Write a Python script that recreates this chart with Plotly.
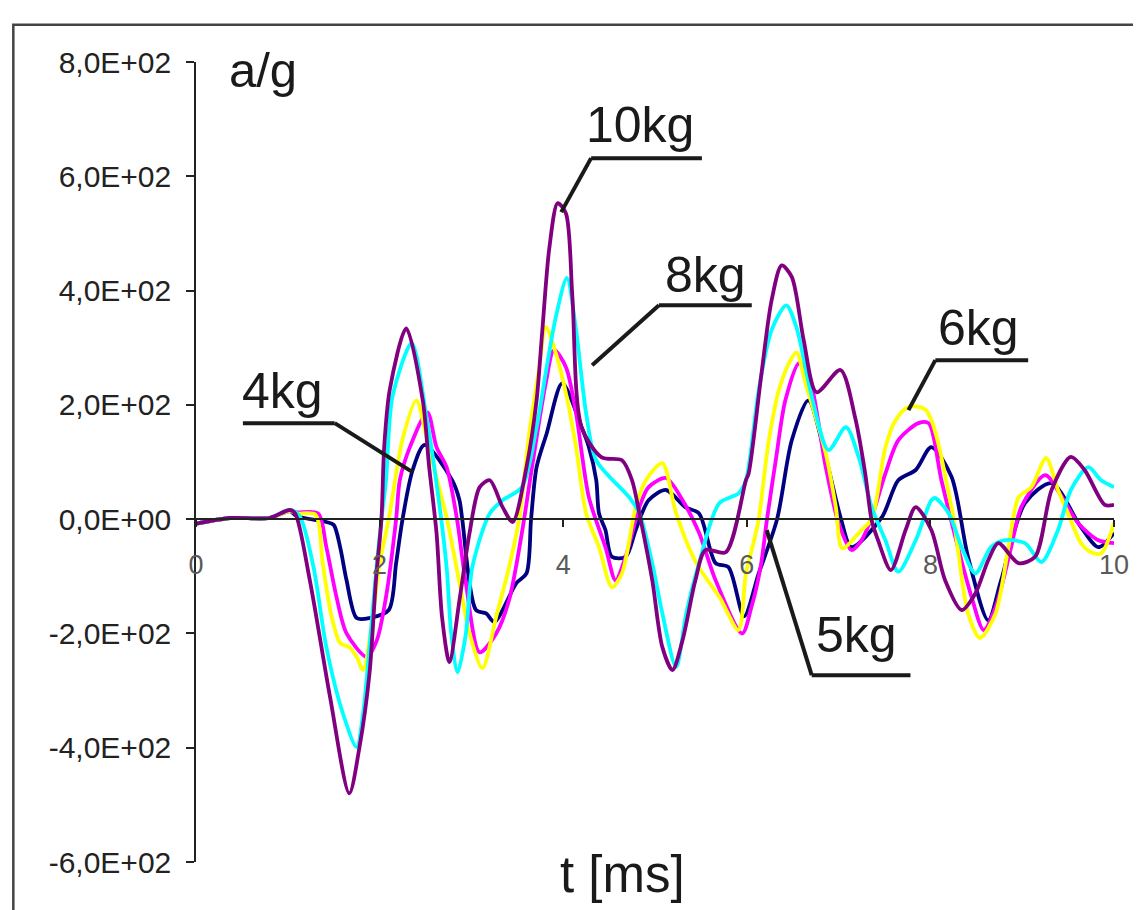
import plotly.graph_objects as go

# ---------------- data ----------------
t_10kg = [0, 0.37, 0.8, 1.02, 1.08, 1.24, 1.46, 1.67, 1.78, 1.89, 1.96, 2.02, 2.05, 2.11, 2.29,
          2.47, 2.54, 2.62, 2.68, 2.76, 2.87, 2.98, 3.09, 3.2, 3.34, 3.45, 3.6, 3.71, 3.77, 3.85,
          3.94, 4.03, 4.1, 4.2, 4.42, 4.64, 4.75, 4.83, 4.97, 5.08, 5.19, 5.3, 5.44, 5.55, 5.77,
          5.99, 6.02, 6.16, 6.27, 6.38, 6.49, 6.62, 6.76, 7.02, 7.18, 7.29, 7.36, 7.43, 7.57,
          7.73, 7.84, 8.01, 8.16, 8.34, 8.49, 8.63, 8.74, 8.96, 9.14, 9.32, 9.53, 9.68, 9.9, 10]
v_10kg = [-8, 2, 2, 16, 10, -107, -311, -480, -400, -270, -107, 0, 126, 226, 334,
          208, 91, -24, -171, -250, -142, -24, 56, 68, 21, -5, 91, 208, 325, 476,
          553, 535, 389, 161, 108, 103, 68, 10, -107, -224, -264, -212, -107, -54, -58,
          68, 80, 255, 383, 444, 424, 313, 222, 261, 178, 80, -2, -37, -89,
          -19, 21, -19, -107, -159, -130, -72, -42, -77, -66, 51, 109, 86, 25, 25]

t_8kg = [0, 0.37, 0.8, 1.02, 1.13, 1.28, 1.42, 1.6, 1.75, 1.82, 1.89, 1.96, 2.02, 2.07, 2.14,
         2.35, 2.51, 2.62, 2.73, 2.78, 2.85, 2.94, 3.01, 3.2, 3.34, 3.55, 3.71, 3.82, 3.92,
         4.04, 4.14, 4.25, 4.36, 4.72, 4.83, 4.97, 5.08, 5.23, 5.34, 5.48, 5.7, 5.91, 5.99,
         6.13, 6.27, 6.43, 6.54, 6.71, 6.89, 7.08, 7.22, 7.36, 7.51, 7.65, 7.84, 8.01, 8.05,
         8.2, 8.34, 8.49, 8.66, 8.8, 9.03, 9.21, 9.39, 9.53, 9.72, 9.86, 10]
v_8kg = [-8, 2, 2, 16, 5, -84, -224, -340, -399, -340, -224, -95, 0, 68, 214,
         308, 179, 63, -84, -200, -268, -200, -84, 10, 33, 56, 161, 266, 354,
         422, 331, 185, 103, 38, 10, -77, -165, -259, -165, -77, 28, 45, 68,
         226, 331, 374, 336, 213, 121, 161, 108, 21, -37, -92, -37, 33, 37,
         10, -49, -95, -49, -37, -42, -75, -19, 51, 91, 68, 56]

t_6kg = [0, 0.37, 0.8, 1.02, 1.1, 1.3, 1.38, 1.47, 1.57, 1.67, 1.75, 1.82, 1.93, 2.0, 2.1,
         2.25, 2.4, 2.54, 2.73, 2.87, 2.98, 3.12, 3.27, 3.41, 3.52, 3.63, 3.74, 3.81, 3.92,
         4.03, 4.14, 4.25, 4.39, 4.53, 4.64, 4.79, 4.9, 5.08, 5.23, 5.45, 5.7, 5.91, 5.99,
         6.08, 6.13, 6.24, 6.35, 6.46, 6.54, 6.64, 6.86, 6.97, 7.04, 7.25, 7.36, 7.51, 7.62,
         7.76, 7.95, 8.23, 8.41, 8.54, 8.71, 8.85, 8.96, 9.1, 9.26, 9.39, 9.5, 9.64, 9.75,
         9.86, 10]
v_6kg = [-8, 2, 2, 14, 10, 8, -77, -165, -217, -224, -241, -264, -165, -77, 0,
         140, 208, 121, 3, -112, -200, -261, -171, -84, 0, 150, 266, 336, 290,
         220, 126, 10, -49, -119, -95, 21, 68, 98, 10, -77, -136, -194, -95,
         -37, 0, 138, 226, 273, 292, 238, 115, 21, -51, -19, 0, 126, 173,
         196, 191, 21, -165, -208, -165, -49, 38, 56, 107, 51, 10, -42, -58,
         -60, -7]

t_5kg = [0, 0.37, 0.8, 1.02, 1.1, 1.33, 1.42, 1.53, 1.64, 1.86, 1.97, 2.07, 2.18, 2.22, 2.33,
         2.52, 2.62, 2.73, 2.84, 2.94, 3.09, 3.27, 3.41, 3.55, 3.66, 3.81, 3.9, 4.03, 4.14,
         4.28, 4.46, 4.57, 4.68, 4.83, 4.93, 5.12, 5.3, 5.48, 5.66, 5.95, 6.05, 6.15, 6.22,
         6.32, 6.42, 6.57, 6.67, 6.86, 7.0, 7.14, 7.25, 7.36, 7.51, 7.65, 7.87, 7.98, 8.12,
         8.3, 8.45, 8.58, 8.71, 8.88, 8.99, 9.25, 9.42, 9.61, 9.83, 10]
v_5kg = [-8, 2, 2, 14, 12, 10, -49, -136, -200, -241, -212, -136, 0, 68, 126,
         187, 126, 91, 3, -112, -233, -200, -142, -24, 91, 238, 296, 266, 185,
         38, -49, -107, -66, 21, 56, 72, 33, -24, -107, -200, -154, -84, 0,
         108, 208, 273, 255, 91, -7, -54, -37, 3, 80, 138, 168, 168, 68,
         -49, -137, -194, -154, -49, 21, 77, 42, -7, -37, -42]

t_4kg = [0, 0.37, 0.8, 1.02, 1.1, 1.42, 1.5, 1.57, 1.64, 1.75, 1.89, 2.1, 2.18, 2.25, 2.36,
         2.49, 2.79, 2.87, 2.9, 3.05, 3.16, 3.25, 3.49, 3.6, 3.65, 3.71, 3.82, 3.99, 4.2,
         4.28, 4.36, 4.39, 4.46, 4.53, 4.68, 4.79, 4.93, 5.12, 5.33, 5.48, 5.66, 5.8, 5.97,
         6.13, 6.33, 6.49, 6.67, 6.86, 7.03, 7.14, 7.47, 7.65, 7.84, 8.01, 8.23, 8.41, 8.63,
         8.77, 9.03, 9.32, 9.64, 9.83, 10]
v_4kg = [-8, 2, 2, 14, 5, -5, -10, -49, -107, -173, -173, -159, -77, 0, 86,
         130, 68, 33, 0, -159, -165, -180, -112, -95, 0, 91, 150, 238, 161,
         126, 68, 10, -19, -66, -66, -19, 33, 51, 21, 10, -77, -84, -170,
         -95, 0, 138, 208, 108, -2, -49, 3, 68, 86, 126, 74, -66, -177,
         -107, 28, 63, -14, -49, -24]

x_tick_vals = [0, 2, 4, 6, 8, 10]
x_tick_text = ["0", "2", "4", "6", "8", "10"]
y_tick_vals = [800, 600, 400, 200, 0, -200, -400, -600]
y_tick_text = ["8,0E+02", "6,0E+02", "4,0E+02", "2,0E+02", "0,0E+00",
               "-2,0E+02", "-4,0E+02", "-6,0E+02"]

# label text, text anchor (t, v), underline (t0, t1, v), leader end (t, v)
labels = [
    ("10kg", 4.23, 689, 4.304, 5.511, 631.75, 3.978, 537.25),
    ("8kg", 5.09, 428, 5.043, 6.054, 374.5, 4.315, 269.5),
    ("6kg", 8.06, 335, 8.054, 9.065, 278.25, 7.761, 190.75),
    ("5kg", 6.73, -202, 6.707, 7.783, -273.0, 6.217, -19.25),
    ("4kg", 0.48, 225, 0.511, 1.511, 168.0, 2.359, 82.25),
]

series = [
    ("4kg", t_4kg, v_4kg, "#000080"),
    ("5kg", t_5kg, v_5kg, "#FF00FF"),
    ("6kg", t_6kg, v_6kg, "#FFFF00"),
    ("8kg", t_8kg, v_8kg, "#00FFFF"),
    ("10kg", t_10kg, v_10kg, "#800080"),
]

FONT = "Liberation Sans, Arial, sans-serif"

fig = go.Figure()
for name, t, v, col in series:
    fig.add_trace(go.Scatter(x=t, y=v, mode="lines", name=name,
                             line=dict(color=col, width=3.8, shape="spline", smoothing=0.8)))

shapes = []
annotations = []
for txt, tx, ty, u0, u1, uy, lx, ly in labels:
    shapes.append(dict(type="line", xref="x", yref="y", x0=u0, x1=u1, y0=uy, y1=uy,
                       line=dict(color="#1a1a1a", width=4)))
    shapes.append(dict(type="line", xref="x", yref="y", x0=u0 if txt != "4kg" else u1,
                       y0=uy, x1=lx, y1=ly, line=dict(color="#1a1a1a", width=4)))
    annotations.append(dict(text=txt, x=tx, y=ty, xref="x", yref="y", showarrow=False,
                            xanchor="left", yanchor="middle",
                            font=dict(family=FONT, size=50, color="#1a1a1a")))

# outer frame
shapes.append(dict(type="rect", xref="paper", yref="paper", x0=-0.199, x1=1.05, y0=-0.08,
                   y1=1.0465, line=dict(color="#444444", width=2.5), layer="below"))

annotations.append(dict(text="a/g", x=0.0337, y=0.99, xref="paper", yref="paper",
                        showarrow=False, xanchor="left", yanchor="middle",
                        font=dict(family=FONT, size=49, color="#1a1a1a")))
annotations.append(dict(text="t [ms]", x=0.4647, y=-0.0156, xref="paper", yref="paper",
                        showarrow=False, xanchor="center", yanchor="middle",
                        font=dict(family=FONT, size=51, color="#1a1a1a")))

# page has an 8px body margin, so the figure is 8px smaller than the window
fig.update_layout(
    width=1133, height=902,
    margin=dict(l=188, r=25, t=54, b=48),
    paper_bgcolor="white", plot_bgcolor="white",
    showlegend=False,
    shapes=shapes, annotations=annotations,
    xaxis=dict(range=[0, 10], tickvals=x_tick_vals, ticktext=x_tick_text,
               anchor="free", position=(862 - 519) / 800,
               showline=True, linecolor="#222222", linewidth=1.5,
               ticks="outside", ticklen=7, tickcolor="#222222", tickwidth=1.5,
               showgrid=False, zeroline=False, ticklabelstandoff=15,
               tickfont=dict(family=FONT, size=27, color="#5a5a5a")),
    yaxis=dict(range=[-600, 800], tickvals=y_tick_vals, ticktext=y_tick_text,
               showline=True, linecolor="#222222", linewidth=1.5,
               ticks="outside", ticklen=8, tickcolor="#222222", tickwidth=1.5,
               showgrid=False, zeroline=False, ticklabelstandoff=9,
               tickfont=dict(family=FONT, size=30, color="#222222")),
)

fig.write_html("out.html")
